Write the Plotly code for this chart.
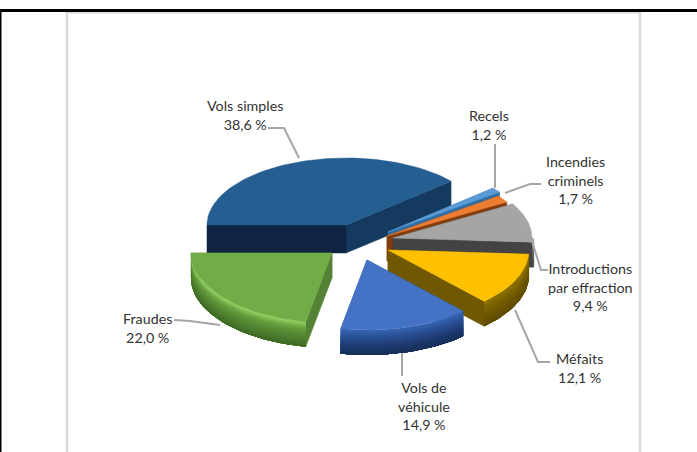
import math
import plotly.graph_objects as go

categories = ["Vols simples", "Recels", "Incendies<br>criminels", "Introductions<br>par effraction",
              "Méfaits", "Vols de<br>véhicule", "Fraudes"]
shares = [38.6, 1.2, 1.7, 9.4, 12.1, 14.9, 22.0]

# presentation only
W, H = 697, 452
RX, RY = 139, 67          # far half of the ellipse
RX_F, RY_F = 141, 70      # near half, a little larger because of the perspective
START = 180
BANDS = 14
apexes = [(346, 225), (388, 232), (387, 236), (393, 238), (388, 250), (367, 260), (332, 253)]
depths = [28, 25, 25, 25, 25, 25, 25]
tops = ["#255e91", "#5b9bd5", "#ed7d31", "#a5a5a5", "#ffc000", "#4472c4", "#70ad47"]
cut_cols = [("#0e2440", "#153a60"), ("#2f6ea5", "#2f6ea5"), ("#843c0c", "#843c0c"),
            ("#434343", "#434343"), ("#6f5800", "#6f5800"), ("#2b4d8f", "#2b4d8f"), ("#548235", "#548235")]
wall_stops = [
    ["#153a60", "#153a60"], ["#2f6ea5", "#2f6ea5"], ["#843c0c", "#843c0c"],
    ["#8a8a8a", "#6a6a6a", "#4a4a4a"],
    ["#8f7200", "#7a6100", "#6b5500", "#604c00"],
    ["#3563ae", "#2b5298", "#234480", "#1c386b", "#182f5b"],
    ["#8fd05f", "#659e3e", "#578b34", "#4d7c2e", "#3f6b25"],
]
label_pos = [(245, 115), (489, 125), (575, 180), (590, 287), (579, 368), (424, 406), (147, 328)]
leaders = [
    [(268, 128), (284, 128), (299, 158)],
    [(495, 144), (495, 188)],
    [(505, 193), (530, 184), (541, 184)],
    [(526, 222), (541, 270), (548, 270)],
    [(515, 310), (538, 362), (550, 362)],
    [(402, 353), (402, 376)],
    [(174, 320), (190, 321), (220, 325)],
]

fig = go.Figure()


def mix(stops, f):
    pos = f * (len(stops) - 1)
    j = min(int(pos), len(stops) - 2)
    u = pos - j
    a = [int(stops[j][k:k + 2], 16) for k in (1, 3, 5)]
    b = [int(stops[j + 1][k:k + 2], 16) for k in (1, 3, 5)]
    return "#" + "".join(f"{round(x + (y - x) * u):02x}" for x, y in zip(a, b))


def poly(pts, color, width=0.5):
    fig.add_trace(go.Scatter(
        x=[p[0] for p in pts] + [pts[0][0]], y=[p[1] for p in pts] + [pts[0][1]],
        mode="lines", fill="toself", fillcolor=color,
        line=dict(color=color, width=width), hoverinfo="skip", showlegend=False))


def pt(a, t):
    r = math.radians(t)
    rx, ry = (RX, RY) if t >= 0 else (RX_F, RY_F)
    return a[0] + rx * math.cos(r), a[1] - ry * math.sin(r)


def arc(a, t1, t2, dy=0.0):
    n = max(2, int(abs(t1 - t2) / 2) + 2)
    out = []
    for i in range(n):
        x, y = pt(a, t1 + (t2 - t1) * i / (n - 1))
        out.append((x, y + dy))
    return out


angle = START
total = sum(shares)
for i, val in enumerate(shares):
    sweep = val / total * 360
    t1, t2 = angle, angle - sweep
    angle = t2
    a, d = apexes[i], depths[i]

    # cut faces: the upper one first so that the front one stays on top
    cuts = []
    for t, col in ((t1, cut_cols[i][0]), (t2, cut_cols[i][1])):
        p = pt(a, t)
        cuts.append(((a[1] + p[1]) / 2, [a, p, (p[0], p[1] + d), (a[0], a[1] + d)], col))
    for _, pts, col in sorted(cuts, key=lambda c: c[0]):
        poly(pts, col)

    # outer wall, only the part that faces the viewer; painted top down, each
    # band reaching the bottom edge, so that no seams show between the bands
    hi, lo = min(t1, 0), max(t2, -180)
    if hi > lo:
        for k in range(BANDS):
            poly(arc(a, hi, lo, k / BANDS * d) + arc(a, lo, hi, d), mix(wall_stops[i], k / (BANDS - 1)), 0)

    poly([a] + arc(a, t1, t2), tops[i])

    txt = f"{categories[i]}<br>{str(val).replace('.', ',')}\u202f%"
    fig.add_annotation(x=label_pos[i][0], y=label_pos[i][1], text=txt, showarrow=False,
                       font=dict(family="Lato", size=14.3, color="#333333"), align="center")

    fig.add_trace(go.Scatter(x=[p[0] for p in leaders[i]], y=[p[1] for p in leaders[i]], mode="lines",
                             line=dict(color="#a6a6a6", width=2), hoverinfo="skip", showlegend=False))

fig.update_layout(
    width=W, height=H, margin=dict(l=0, r=0, t=0, b=0), autosize=False,
    paper_bgcolor="white", plot_bgcolor="white", showlegend=False,
    xaxis=dict(range=[0, W], visible=False, fixedrange=True),
    yaxis=dict(range=[H, 0], visible=False, fixedrange=True),
    shapes=[
        dict(type="line", x0=67, x1=67, y0=12, y1=H, line=dict(color="#d9d9d9", width=2.5), layer="below"),
        dict(type="line", x0=640, x1=640, y0=12, y1=H, line=dict(color="#d9d9d9", width=2.5), layer="below"),
        dict(type="line", x0=66, x1=641, y0=12.5, y1=12.5, line=dict(color="#d9d9d9", width=2), layer="below"),
        dict(type="line", x0=0, x1=W, y0=10.5, y1=10.5, line=dict(color="black", width=3)),
        dict(type="line", x0=0.5, x1=0.5, y0=10, y1=H, line=dict(color="black", width=2)),
    ],
)
fig.write_html("out.html", config=dict(displayModeBar=False),
               post_script="document.body.style.margin='0';document.documentElement.style.overflow='hidden';")
